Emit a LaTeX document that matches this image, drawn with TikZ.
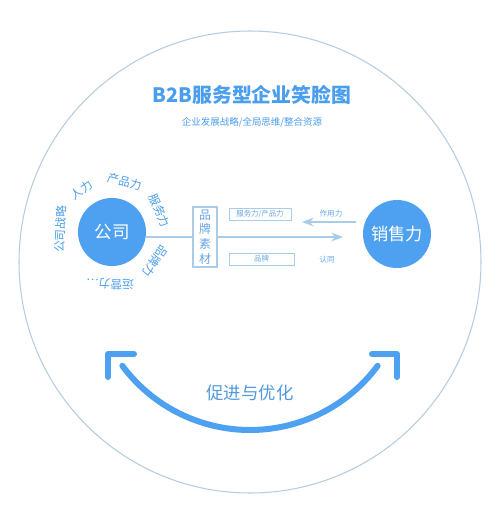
\documentclass[tikz,border=0pt]{standalone}
\usepackage{fontspec}
\setmainfont{Noto Sans CJK SC}
\usetikzlibrary{arrows.meta,positioning}
\definecolor{dotblue}{HTML}{4DA1F0}
\definecolor{titleblue}{HTML}{4A9EEE}
\definecolor{softblue}{HTML}{66A6E6}
\definecolor{lineblue}{HTML}{A9CCEB}
\definecolor{ringgray}{HTML}{B7CCE0}

\begin{document}
\begin{tikzpicture}[x=0.02cm,y=0.02cm,>=Stealth,
  every node/.style={inner sep=0pt},
  bigdot/.style={circle,fill=dotblue,text=white,minimum size=1.36cm,font=\fontsize{10}{12}\selectfont},
  word/.style={text=titleblue,font=\fontsize{6.6}{8}\selectfont},
  tag/.style={draw=lineblue,line width=0.5pt,text=softblue,font=\fontsize{4.2}{5}\selectfont},
  small/.style={text=softblue,font=\fontsize{4.3}{5}\selectfont},
  smile/.style={draw=dotblue,line width=0.12cm,line cap=round,line join=round}]
\fill[white] (0,0) rectangle (500,-511);
\useasboundingbox (0,0) rectangle (500,-511);
\draw[ringgray,line width=0.6pt] (250,-262) circle[radius=231];
% title
\node[text=titleblue,font=\fontsize{11.3}{13}\selectfont\bfseries] (title) at (252,-95) {B2B服务型企业笑脸图};
\node[text=titleblue,font=\fontsize{5.4}{6}\selectfont,below=0.25cm of title] (sub) {企业发展战略/全局思维/整合资源};
% company and sales
\node[bigdot] (co) at (112,-232) {公司};
\node[bigdot,font=\fontsize{9.8}{12}\selectfont] (xs) at (397,-234) {销售力};
\foreach \a/\w in {177/公司战略,126/人力,76/产品力,24/服务力,-34/品牌力,-92/运营力…}
  \node[word,rotate=\a-90] at ([shift={(\a:52)}]co) {\w};
% brand material
\node[draw=lineblue,line width=0.6pt,text=softblue,align=center,minimum width=0.48cm,minimum height=1.2cm,
  font=\fontsize{6.8}{8.4}\selectfont] (mat) at (205,-237) {品\\牌\\素\\材};
\node[tag,minimum width=1.24cm,minimum height=0.24cm] (fw) at (260,-214) {服务力/产品力};
\node[tag,minimum width=1.3cm,minimum height=0.24cm] (pp) at (261.5,-259) {品牌};
\node[small] (zy) at (331,-214) {作用力};
\node[small] (rt) at (327,-260) {认同};
\coordinate (tip) at (343,-237);
\coordinate (fa) at (356,-222);
\coordinate (fb) at (302,-222);
\draw[lineblue,line width=0.8pt] (co.east |- mat.west) -- (mat.west);
\draw[->,lineblue,line width=0.8pt] (mat.east) -- (tip);
\draw[->,lineblue,line width=0.8pt] (fa) -- (fb);
% smile
\draw[smile] (250,-271) ++(216.6:159) arc[start angle=216.6,end angle=323.4,radius=159];
\draw[smile] (134,-354) -- (108,-354) -- (108,-377);
\draw[smile] (372,-354) -- (397,-354) -- (397,-377);
\node[text=titleblue!85!gray,font=\fontsize{9.9}{12}\selectfont] (cj) at (250,-393) {促进与优化};
\end{tikzpicture}
\end{document}
